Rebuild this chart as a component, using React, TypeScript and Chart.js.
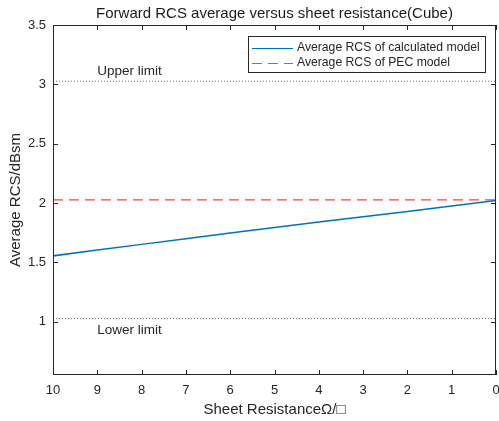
import React, { useEffect, useRef } from "react";
import { Chart, registerables } from "chart.js";

Chart.register(...registerables);

const sheetResistance = [10, 9, 8, 7, 6, 5, 4, 3, 2, 1, 0];
const calculatedRCS = [1.554, 1.603, 1.651, 1.699, 1.746, 1.793, 1.839, 1.884, 1.929, 1.975, 2.02];
const pecRCS = [2.026, 2.026];
const upperLimit = [3.026, 3.026];
const lowerLimit = [1.026, 1.026];
const limitX = [10, 0];
const xTicks = [10, 9, 8, 7, 6, 5, 4, 3, 2, 1, 0];
const yTicks = [1, 1.5, 2, 2.5, 3, 3.5];

const FONT = "'Liberation Sans', Arial, sans-serif";
const INK = "#262626";

const decorPlugin = {
  id: "decor",
  afterDraw(chart: any) {
    const { ctx, chartArea: a, scales } = chart;
    const xs = scales.x;
    const ys = scales.y;
    ctx.save();
    // box
    ctx.strokeStyle = INK;
    ctx.lineWidth = 1;
    ctx.strokeRect(Math.round(a.left) + 0.5, Math.round(a.top) + 0.5, Math.round(a.right - a.left) - 1, Math.round(a.bottom - a.top) - 1);
    // inward ticks
    const tl = 5;
    ctx.beginPath();
    xTicks.forEach((v) => {
      const px = Math.round(xs.getPixelForValue(v)) + 0.5;
      ctx.moveTo(px, a.bottom);
      ctx.lineTo(px, a.bottom - tl);
      ctx.moveTo(px, a.top);
      ctx.lineTo(px, a.top + tl);
    });
    yTicks.forEach((v) => {
      const py = Math.round(ys.getPixelForValue(v)) + 0.5;
      ctx.moveTo(a.left, py);
      ctx.lineTo(a.left + tl, py);
      ctx.moveTo(a.right, py);
      ctx.lineTo(a.right - tl, py);
    });
    ctx.stroke();

    // title
    ctx.fillStyle = "#1a1a1a";
    ctx.font = `15px ${FONT}`;
    ctx.textAlign = "center";
    ctx.textBaseline = "middle";
    ctx.fillText("Forward RCS average versus sheet resistance(Cube)", (a.left + a.right) / 2, 14);

    // axis titles
    ctx.fillStyle = INK;
    ctx.fillText("Sheet ResistanceΩ/□", (a.left + a.right) / 2, 410);
    ctx.save();
    ctx.translate(16, (a.top + a.bottom) / 2);
    ctx.rotate(-Math.PI / 2);
    ctx.fillText("Average RCS/dBsm", 0, 0);
    ctx.restore();

    // limit labels
    ctx.textAlign = "left";
    ctx.font = `13.5px ${FONT}`;
    const lx = xs.getPixelForValue(9);
    ctx.fillText("Upper limit", lx, ys.getPixelForValue(upperLimit[0]) - 10);
    ctx.fillText("Lower limit", lx, ys.getPixelForValue(lowerLimit[0]) + 12);

    // legend
    ctx.font = `12.2px ${FONT}`;
    const bx = 248.5, by = 36.5, bw = 237, bh = 36;
    ctx.fillStyle = "#ffffff";
    ctx.fillRect(bx, by, bw, bh);
    ctx.strokeStyle = INK;
    ctx.lineWidth = 1;
    ctx.strokeRect(bx, by, bw, bh);
    const rows = [
      { label: "Average RCS of calculated model", color: "#0072BD", dash: [] as number[], y: 48 },
      { label: "Average RCS of PEC model", color: "#FF4040", dash: [10, 6], y: 63 },
    ];
    rows.forEach((r) => {
      ctx.beginPath();
      ctx.setLineDash(r.dash);
      ctx.strokeStyle = r.color;
      ctx.lineWidth = 1.2;
      ctx.moveTo(252, r.y + 0.5);
      ctx.lineTo(293, r.y + 0.5);
      ctx.stroke();
      ctx.setLineDash([]);
      ctx.fillStyle = INK;
      ctx.fillText(r.label, 297, r.y);
    });
    ctx.restore();
  },
};

export default function App() {
  const ref = useRef<HTMLCanvasElement | null>(null);
  useEffect(() => {
    if (!ref.current) return;
    const pts = (xsArr: number[], ysArr: number[]) => xsArr.map((x, i) => ({ x, y: ysArr[i] }));
    const chart = new Chart(ref.current, {
      type: "line",
      data: {
        datasets: [
          {
            label: "Average RCS of calculated model",
            data: pts(sheetResistance, calculatedRCS),
            borderColor: "#0072BD",
            borderWidth: 1.5,
            pointRadius: 0,
            tension: 0,
          },
          {
            label: "Average RCS of PEC model",
            data: pts(limitX, pecRCS),
            borderColor: "#FF4040",
            borderWidth: 1.2,
            borderDash: [10, 6],
            pointRadius: 0,
          },
          {
            label: "Upper limit",
            data: pts(limitX, upperLimit),
            borderColor: "#666666",
            borderWidth: 1,
            borderDash: [1, 2],
            pointRadius: 0,
          },
          {
            label: "Lower limit",
            data: pts(limitX, lowerLimit),
            borderColor: "#666666",
            borderWidth: 1,
            borderDash: [1, 2],
            pointRadius: 0,
          },
        ],
      },
      options: {
        responsive: false,
        animation: false,
        layout: { padding: { left: 0, right: 3, top: 25, bottom: 0 } },
        plugins: {
          legend: { display: false },
          title: { display: false },
          tooltip: { enabled: false },
        },
        scales: {
          x: {
            type: "linear",
            reverse: true,
            min: 0,
            max: 10,
            afterBuildTicks: (s: any) => {
              s.ticks = xTicks.map((v) => ({ value: v }));
            },
            afterFit: (s: any) => {
              s.height = 46;
              s.paddingLeft = 0;
              s.paddingRight = 0;
            },
            grid: { display: false, drawTicks: false },
            border: { display: false },
            ticks: {
              padding: 8,
              color: INK,
              font: { family: FONT, size: 13 },
              maxRotation: 0,
              autoSkip: false,
              callback: (v: any) => String(v),
            },
          },
          y: {
            type: "linear",
            min: 0.55,
            max: 3.5,
            afterBuildTicks: (s: any) => {
              s.ticks = yTicks.map((v) => ({ value: v }));
            },
            afterFit: (s: any) => {
              s.width = 53;
              s.paddingTop = 0;
              s.paddingBottom = 0;
            },
            grid: { display: false, drawTicks: false },
            border: { display: false },
            ticks: {
              padding: 7,
              color: INK,
              font: { family: FONT, size: 13 },
              autoSkip: false,
              callback: (v: any) => String(v),
            },
          },
        },
      },
      plugins: [decorPlugin],
    });
    return () => chart.destroy();
  }, []);
  return (
    <div style={{ position: "absolute", left: 0, top: 0, width: 499, height: 421, background: "#fff" }}>
      <canvas ref={ref} width={499} height={421} />
    </div>
  );
}
